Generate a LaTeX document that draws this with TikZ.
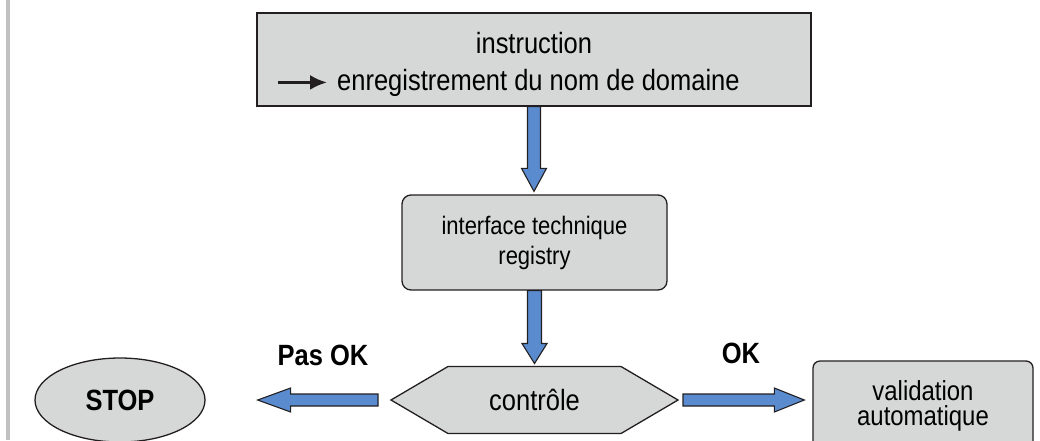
\documentclass[tikz,border=0pt]{standalone}
\usepackage{fontspec}
\setmainfont{Liberation Sans}[FakeStretch=0.87]
\usetikzlibrary{calc,shapes.geometric,arrows.meta}
\definecolor{boxgray}{RGB}{214,215,215}
\definecolor{edge}{RGB}{35,31,32}
\definecolor{flow}{RGB}{91,139,207}
\definecolor{rulegray}{RGB}{192,192,192}
\begin{document}
\begin{tikzpicture}[x=1pt,y=-1pt,
  box/.style={draw=edge, fill=boxgray, line width=1.3pt, inner sep=0pt},
  flowarrow/.style={draw=edge, fill=flow, line width=1.1pt, line join=miter},
  txt/.style={font=\fontsize{29.3}{34}\selectfont},
  btxt/.style={font=\fontsize{29.3}{34}\selectfont\bfseries}]
\useasboundingbox (0,0) rectangle (1040,440);
\fill[rulegray] (6,0) rectangle (9.5,440);

% top box
\node[box, minimum width=554pt, minimum height=93pt] (top) at (534,59.5) {};
\node[txt, anchor=base] (l1) at (534,53) {instruction};
\node[txt, anchor=base west, inner sep=0pt] (l2) at (337,90) {enregistrement du nom de domaine};
\draw[edge, line width=2.8pt, -{Latex[length=17pt,width=15pt]}] ($(l2.west)+(-59,0)$) -- ($(l2.west)+(-10,0)$);

% interface box
\node[box, rounded corners=9pt, minimum width=265pt, minimum height=95pt, align=center,
      font=\fontsize{25.3}{30}\selectfont] (iface) at (534.5,242.5) {interface technique\\registry};

% control hexagon
\coordinate (ctrlc) at (534.5,400);
\coordinate (ctrlN) at ($(ctrlc)+(0,-33.5)$);
\coordinate (ctrlE) at ($(ctrlc)+(143.5,0)$);
\coordinate (ctrlW) at ($(ctrlc)+(-143.5,0)$);
\draw[box] (ctrlW) -- ++(57,-33.5) -- ++(173,0) -- (ctrlE) -- ++(-57,33.5) -- ++(-173,0) -- cycle;
\node[txt] (ctrl) at (ctrlc) {contrôle};

% STOP
\node[box, ellipse, minimum width=170pt, minimum height=84pt, btxt] (stop) at (120,400) {STOP};

% validation
\node[box, rounded corners=7pt, minimum width=220pt, minimum height=90pt, align=center,
      font=\fontsize{27.5}{25}\selectfont] (valid) at (923,406) {validation\\automatique};

% labels
\node[btxt, anchor=base] (pasok) at (323,365) {Pas OK};
\node[btxt, anchor=base] (ok) at (741,363) {OK};

% block arrows
\draw[flowarrow] let \p1=(top.south), \p2=(iface.north) in
  (\x1-6.5pt,\y1) -- (\x1+6.5pt,\y1) -- (\x1+6.5pt,\y2+26pt) -- (\x1+12.5pt,\y2+26pt)
  -- (\x1,\y2+3pt) -- (\x1-12.5pt,\y2+26pt) -- (\x1-6.5pt,\y2+26pt) -- cycle;
\draw[flowarrow] let \p1=(iface.south), \p2=(ctrlN) in
  (\x1-7pt,\y1) -- (\x1+7pt,\y1) -- (\x1+7pt,\y2+23pt) -- (\x1+12.5pt,\y2+23pt)
  -- (\x1,\y2+3pt) -- (\x1-12.5pt,\y2+23pt) -- (\x1-7pt,\y2+23pt) -- cycle;
\draw[flowarrow] let \p1=(ctrlE), \p2=(valid.west) in
  (\x1+5pt,\y1+6pt) -- (\x1+5pt,\y1-6pt) -- (\x2-38pt,\y1-6pt) -- (\x2-38pt,\y1-12pt)
  -- (\x2-8pt,\y1) -- (\x2-38pt,\y1+12pt) -- (\x2-38pt,\y1+6pt) -- cycle;
\draw[flowarrow] let \p1=(ctrlW), \p2=(stop.east) in
  (\x1-13pt,\y1+6pt) -- (\x1-13pt,\y1-6pt) -- (\x2+85pt,\y1-6pt) -- (\x2+85pt,\y1-12pt)
  -- (\x2+52pt,\y1) -- (\x2+85pt,\y1+12pt) -- (\x2+85pt,\y1+6pt) -- cycle;
\end{tikzpicture}
\end{document}
